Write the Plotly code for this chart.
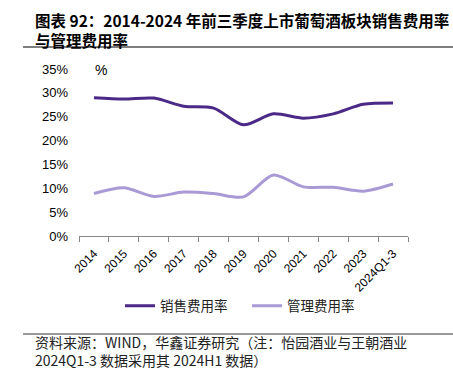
import plotly.graph_objects as go

categories = ["2014", "2015", "2016", "2017", "2018", "2019", "2020", "2021", "2022", "2023", "2024Q1-3"]
sales_rate = [29.0, 28.7, 28.9, 27.2, 26.8, 23.3, 25.6, 24.7, 25.6, 27.6, 27.9]
admin_rate = [8.9, 10.1, 8.3, 9.2, 8.9, 8.2, 12.8, 10.3, 10.2, 9.4, 10.9]
y_ticks = [0, 5, 10, 15, 20, 25, 30, 35]
y_tick_labels = ["0%", "5%", "10%", "15%", "20%", "25%", "30%", "35%"]

W, H = 453, 369
X0, X1, Y0, Y1 = 79, 408, 236, 69
L, R, T, B = X0, W - X1, Y1, H - Y0


def px_x(x):
    return (x - X0) / (X1 - X0)


def px_y(y):
    return (Y0 - y) / (Y0 - Y1)


fig = go.Figure()
fig.add_trace(go.Scatter(x=categories, y=sales_rate, mode="lines", name="销售费用率",
                         line=dict(color="#4B2A87", width=3, shape="spline", smoothing=0.8)))
fig.add_trace(go.Scatter(x=categories, y=admin_rate, mode="lines", name="管理费用率",
                         line=dict(color="#A99AD6", width=3, shape="spline", smoothing=0.8)))

fig.update_layout(
    width=W, height=H,
    margin=dict(l=L, r=R, t=T, b=B, autoexpand=False),
    plot_bgcolor="white", paper_bgcolor="white",
    font=dict(family="Liberation Sans, Arial", color="#000000", size=12),
    showlegend=True,
    legend=dict(orientation="h", x=px_x(120), xanchor="left", y=px_y(306), yanchor="middle",
                font=dict(family="Noto Sans CJK SC", size=13.5, color="#222"),
                itemwidth=30, tracegroupgap=0, entrywidthmode="pixels", entrywidth=82,
                bgcolor="rgba(0,0,0,0)"),
    xaxis=dict(type="category", showgrid=False, showline=True, linecolor="#888", linewidth=1,
               ticks="outside", tickson="boundaries", ticklen=5, tickcolor="#888",
               tickangle=-45, tickfont=dict(size=12, family="Liberation Sans, Arial"),
               ticklabelstandoff=5,
               range=[-0.5, 10.5], automargin=False),
    yaxis=dict(range=[0, 35], tickvals=y_ticks, ticktext=y_tick_labels, showgrid=False,
               showline=False, zeroline=False, ticks="", tickfont=dict(size=13),
               ticklabelstandoff=10, fixedrange=True, automargin=False),
)

shapes = [
    dict(type="line", xref="paper", yref="paper", x0=px_x(23), x1=px_x(453),
         y0=px_y(47), y1=px_y(47), line=dict(color="#000", width=1.2)),
    dict(type="line", xref="paper", yref="paper", x0=px_x(23), x1=px_x(453),
         y0=px_y(334), y1=px_y(334), line=dict(color="#999", width=2)),
]
fig.update_layout(shapes=shapes)

cjk = "Noto Sans CJK SC"
ann = [
    dict(text="<b>图表 92：2014-2024 年前三季度上市葡萄酒板块销售费用率</b><br><b>与管理费用率</b>",
         x=px_x(33), y=px_y(7), align="left",
         xanchor="left", yanchor="top", font=dict(family=cjk, size=15.5, color="#000")),
    dict(text="%", x=px_x(93), y=px_y(70), xanchor="left", yanchor="middle",
         font=dict(size=14, color="#000")),
    dict(text="资料来源：WIND，华鑫证券研究（注：怡园酒业与王朝酒业<br>"
              "2024Q1-3 数据采用其 2024H1 数据）",
         x=px_x(33), y=px_y(372), align="left",
         xanchor="left", yanchor="bottom", font=dict(family=cjk, size=14, color="#222")),
]
for a in ann:
    a.update(xref="paper", yref="paper", showarrow=False)
fig.update_layout(annotations=ann)

fig.write_html("out.html", config={"displayModeBar": False},
               post_script="document.body.style.margin='0';document.body.style.overflow='hidden';")
